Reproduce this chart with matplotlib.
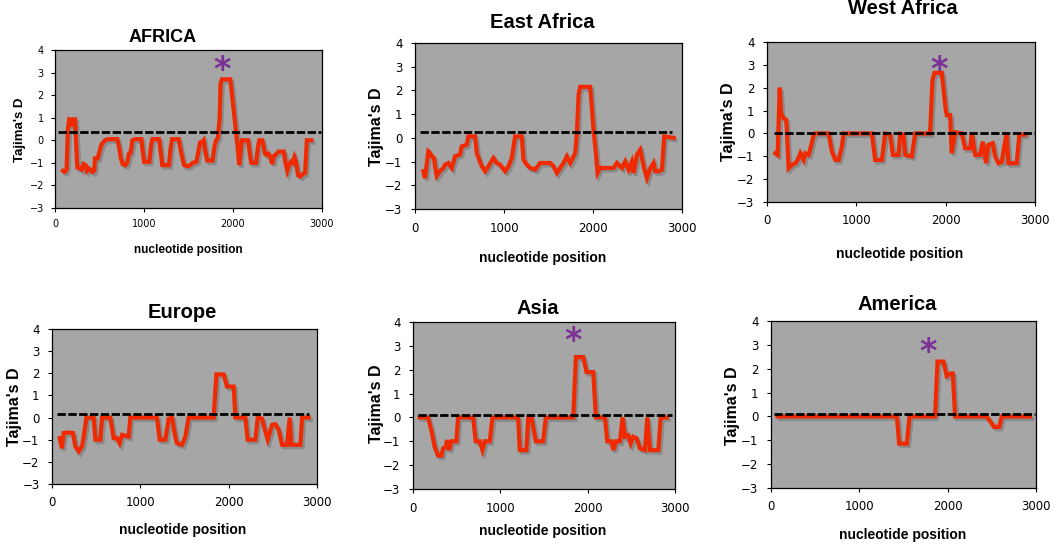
import matplotlib
matplotlib.use("Agg")
import matplotlib.pyplot as plt
import matplotlib.transforms as mtransforms

# ---------------- data ----------------
regions = ["AFRICA", "East Africa", "West Africa", "Europe", "Asia", "America"]

africa_pos = [90, 110, 130, 145, 160, 185, 195, 205, 225, 250, 280, 300, 320, 345, 360, 380, 400, 420, 440,
              450, 480, 500, 520, 560, 600, 700, 720, 740, 760, 790, 810, 830, 850, 870, 900, 970, 990, 1000,
              1060, 1080, 1095, 1170, 1190, 1205, 1280, 1300, 1315, 1390, 1420, 1450, 1490, 1520, 1545, 1590,
              1610, 1630, 1660, 1670, 1690, 1710, 1770, 1790, 1810, 1830, 1850, 1860, 1875, 1970, 2000, 2030,
              2050, 2070, 2085, 2100, 2170, 2185, 2205, 2260, 2280, 2295, 2330, 2345, 2360, 2380, 2400, 2420,
              2440, 2460, 2490, 2510, 2570, 2590, 2610, 2630, 2650, 2670, 2690, 2710, 2730, 2760, 2780, 2810,
              2830, 2880]
africa_D = [-1.35, -1.4, -1.3, 0.5, 0.93, 0.9, 0.6, 0.93, 0.93, -1.2, -1.25, -1.3, -1.05, -1.1, -1.35, -1.25,
            -1.3, -1.4, -1.35, -0.8, -0.8, -0.5, -0.2, 0.0, 0.05, 0.05, -0.3, -0.8, -1.05, -1.1, -1.0, -0.6,
            -0.55, 0.0, 0.05, 0.05, -0.6, -0.95, -0.95, -0.2, 0.05, 0.05, -0.6, -1.1, -1.1, -0.3, 0.05, 0.05,
            -0.6, -1.1, -1.15, -1.1, -1.0, -0.95, -0.5, -0.1, -0.05, 0.0, -0.5, -0.9, -0.9, -0.3, 0.0, 0.1,
            1.0, 2.5, 2.7, 2.7, 1.6, 0.5, -0.2, -1.1, -0.5, 0.0, 0.0, -0.5, -1.0, -1.0, -0.3, 0.0, 0.0, -0.3,
            -0.6, -0.65, -0.6, -0.75, -1.05, -0.7, -0.6, -0.5, -0.5, -1.0, -1.35, -1.1, -0.95, -1.0, -0.75,
            -1.0, -1.55, -1.6, -1.5, -1.45, 0.0, 0.0]

east_pos = [94, 112, 150, 170, 188, 214, 225, 244, 281, 319, 338, 375, 413, 450, 506, 525, 581, 600, 675, 694,
            750, 788, 825, 881, 919, 956, 1013, 1050, 1088, 1125, 1200, 1219, 1256, 1294, 1350, 1406, 1519,
            1556, 1594, 1631, 1669, 1706, 1744, 1800, 1819, 1838, 1856, 1969, 2006, 2036, 2051, 2081, 2231,
            2269, 2325, 2362, 2400, 2437, 2456, 2494, 2531, 2569, 2606, 2644, 2681, 2700, 2737, 2775, 2800,
            2906]
east_D = [-1.41, -1.7, -0.57, -0.64, -0.78, -0.85, -1.2, -1.6, -1.4, -1.27, -1.13, -1.06, -1.27, -0.78, -0.7,
          -0.36, -0.29, 0.06, 0.06, -0.64, -1.2, -1.41, -1.2, -0.85, -1.06, -1.13, -1.41, -1.2, -0.85, 0.06,
          0.06, -0.92, -1.13, -1.27, -1.34, -1.06, -1.06, -1.2, -1.48, -1.27, -1.06, -0.78, -1.06, -0.64, 0.2,
          1.82, 2.15, 2.15, 0.35, -0.78, -1.48, -1.27, -1.27, -1.06, -1.27, -1.0, -1.34, -1.0, -1.48, -0.7,
          -0.5, -1.2, -1.7, -1.27, -1.06, -1.41, -1.41, -1.34, 0.06, 0.0]

west_pos = [93, 119, 142, 157, 186, 216, 242, 280, 317, 343, 373, 410, 429, 466, 492, 522, 540, 690, 727, 764,
            801, 839, 857, 1174, 1211, 1286, 1323, 1379, 1409, 1472, 1491, 1528, 1547, 1621, 1659, 1826, 1852,
            1875, 1957, 2001, 2013, 2050, 2068, 2106, 2180, 2218, 2274, 2292, 2330, 2385, 2415, 2452, 2478,
            2527, 2553, 2590, 2628, 2654, 2683, 2702, 2795, 2825, 2888]
west_D = [-0.87, -0.94, 2.0, 0.88, 0.66, 0.59, -1.52, -1.37, -1.3, -1.16, -0.87, -1.16, -0.87, -0.94, -0.57,
          -0.07, 0.0, 0.0, -0.79, -1.16, -1.16, -0.57, 0.0, 0.0, -1.16, -1.16, 0.0, -0.05, -0.94, -0.94,
          -0.02, -0.05, -0.94, -1.0, 0.0, 0.0, 2.33, 2.65, 2.65, 1.02, 0.8, 0.8, -0.87, 0.05, 0.0, -0.65,
          -0.65, 0.0, -0.94, -0.94, -0.36, -1.3, -0.5, -0.43, -1.0, -1.3, -1.25, -0.6, 0.0, -1.3, -1.3,
          -0.05, -0.05]

europe_pos = [87, 113, 132, 170, 208, 238, 264, 302, 340, 359, 389, 472, 491, 547, 566, 660, 698, 736, 766,
              793, 868, 887, 1189, 1219, 1283, 1321, 1359, 1396, 1415, 1472, 1510, 1547, 1830, 1861, 1944,
              1981, 2057, 2076, 2189, 2215, 2302, 2329, 2378, 2415, 2442, 2491, 2529, 2566, 2604, 2661, 2691,
              2710, 2812, 2831, 2906]
europe_D = [-0.93, -1.39, -0.7, -0.68, -0.68, -0.7, -1.3, -1.53, -1.3, -0.86, 0.0, 0.0, -1.0, -1.0, 0.0, 0.0,
            -0.93, -0.93, -1.16, -0.78, -0.86, 0.0, 0.0, -1.0, -1.0, -0.05, 0.0, -0.86, -1.16, -1.23, -0.86,
            0.0, 0.0, 1.95, 1.95, 1.4, 1.4, 0.0, 0.0, -1.0, -1.0, 0.0, -0.05, -0.63, -1.0, -0.33, -0.3, -0.55,
            -1.23, -1.23, 0.0, -1.23, -1.23, 0.0, 0.0]

asia_pos = [76, 172, 210, 248, 287, 325, 344, 375, 390, 413, 440, 497, 516, 688, 718, 764, 795, 822, 879, 910,
            1204, 1223, 1299, 1319, 1357, 1406, 1490, 1521, 1835, 1865, 1949, 1987, 2064, 2094, 2198, 2224,
            2274, 2293, 2324, 2370, 2400, 2427, 2465, 2492, 2522, 2561, 2599, 2656, 2683, 2714, 2809, 2836,
            2905]
asia_D = [0.0, 0.0, -0.53, -1.23, -1.6, -1.6, -1.3, -1.23, -0.95, -1.37, -1.0, -1.0, 0.0, 0.0, -1.0, -1.0,
          -1.37, -1.0, -1.0, 0.0, 0.0, -1.37, -1.37, 0.0, 0.0, -1.0, -1.0, 0.0, 0.0, 2.53, 2.53, 1.9, 1.9,
          0.0, 0.0, -1.0, -1.0, -1.37, -1.0, -1.0, 0.0, -0.81, -0.75, -1.09, -0.81, -0.88, -1.3, -1.37, 0.0,
          -1.37, -1.37, 0.0, 0.0]

america_pos = [75, 1425, 1451, 1538, 1568, 1858, 1885, 1952, 1990, 2035, 2058, 2084, 2442, 2499, 2525, 2585,
               2612, 2932]
america_D = [0.0, 0.0, -1.14, -1.14, 0.0, 0.0, 2.3, 2.3, 1.69, 1.8, 1.8, 0.0, 0.0, -0.3, -0.44, -0.44, 0.0,
             0.0]

# genome-wide reference level (dashed line) per region
mean_D = [0.37, 0.25, 0.04, 0.17, 0.12, 0.09]
mean_span = [(37, 2985), (56, 2890), (82, 3000), (57, 2906), (57, 2962), (38, 2989)]

# asterisk (significance) positions: (x, y) or None
star_pos = [(1875, 3.4), None, (1931, 3.05), None, (1835, 3.5), (1775, 3.0)]

x_ticks = [0, 1000, 2000, 3000]
y_ticks = [-3, -2, -1, 0, 1, 2, 3, 4]

series = [(africa_pos, africa_D), (east_pos, east_D), (west_pos, west_D),
          (europe_pos, europe_D), (asia_pos, asia_D), (america_pos, america_D)]

# ---------------- layout (pixels) ----------------
W, H = 1055, 550
axes_px = [(55, 50, 322, 208), (415, 43, 682, 209), (767, 42, 1035, 202),
           (52, 329, 317, 484), (413, 322, 675, 489), (771, 321, 1036, 488)]
title_px = [(163, 37), (542, 22), (903, 8), (182, 312), (538, 308), (897, 304)]
xlabel_px = [(188, 250), (543, 258), (900, 254), (183, 530), (543, 531), (903, 535)]
ylabel_px = [(20, 130), (377, 127), (729, 122), (15, 407), (376, 404), (733, 406)]
small = [True, False, False, False, False, False]

fig = plt.figure(figsize=(W / 100, H / 100), dpi=100)
fig.patch.set_facecolor("white")

BG = "#A6A6A6"
RED = "#F02A00"
SHADOW = "#8A8A8A"
PURPLE = "#7B3294"
BOLD_FAMILY = ["Liberation Sans", "DejaVu Sans"]
TICK_FAMILY = ["DejaVu Sans"]

for i, (name, (xs, ys)) in enumerate(zip(regions, series)):
    L, T, R, B = axes_px[i]
    ax = fig.add_axes([L / W, 1 - B / H, (R - L) / W, (B - T) / H])
    ax.set_facecolor(BG)
    ax.set_xlim(0, 3000)
    ax.set_ylim(-3, 4)
    ax.set_xticks(x_ticks)
    ax.set_yticks(y_ticks)
    tfs = 7 if small[i] else 8.5
    ax.tick_params(axis="both", direction="out", length=3, width=0.8, labelsize=tfs, pad=5 if small[i] else 6)
    for lab in ax.get_xticklabels() + ax.get_yticklabels():
        lab.set_fontfamily(TICK_FAMILY)
    for sp in ax.spines.values():
        sp.set_linewidth(0.9)
        sp.set_color("black")

    # shadow + line
    shadow_tr = mtransforms.offset_copy(ax.transData, fig=fig, x=1.5, y=-1.8, units="points")
    ax.plot(xs, ys, color=SHADOW, lw=3.0, transform=shadow_tr, solid_joinstyle="miter", zorder=2)
    ax.plot(xs, ys, color=RED, lw=3.0, solid_joinstyle="miter", zorder=3)

    # dashed reference level
    x0, x1 = mean_span[i]
    ax.plot([x0, x1], [mean_D[i], mean_D[i]], color="black", lw=2.0, ls=(0, (3.0, 0.9)), zorder=4)

    if star_pos[i] is not None:
        sx, sy = star_pos[i]
        ax.text(sx, sy - 0.3, "*", color=PURPLE, fontsize=24, fontweight="bold", ha="center", va="center",
                family=TICK_FAMILY, zorder=5)

    fs_title = 13 if small[i] else 14.5
    fs_lab = 8.5 if small[i] else 10
    fs_ylab = 9.5 if small[i] else 11.5
    tx, ty = title_px[i]
    fig.text(tx / W, 1 - ty / H, name, ha="center", va="center", fontsize=fs_title, fontweight="bold",
             family=BOLD_FAMILY)
    lx, ly = xlabel_px[i]
    fig.text(lx / W, 1 - ly / H, "nucleotide position", ha="center", va="center", fontsize=fs_lab,
             fontweight="bold", family=BOLD_FAMILY)
    yx, yy = ylabel_px[i]
    fig.text(yx / W, 1 - yy / H, "Tajima's D", ha="center", va="center", rotation=90, fontsize=fs_ylab,
             fontweight="bold", family=BOLD_FAMILY)

fig.savefig("out.png", dpi=100, facecolor="white")
